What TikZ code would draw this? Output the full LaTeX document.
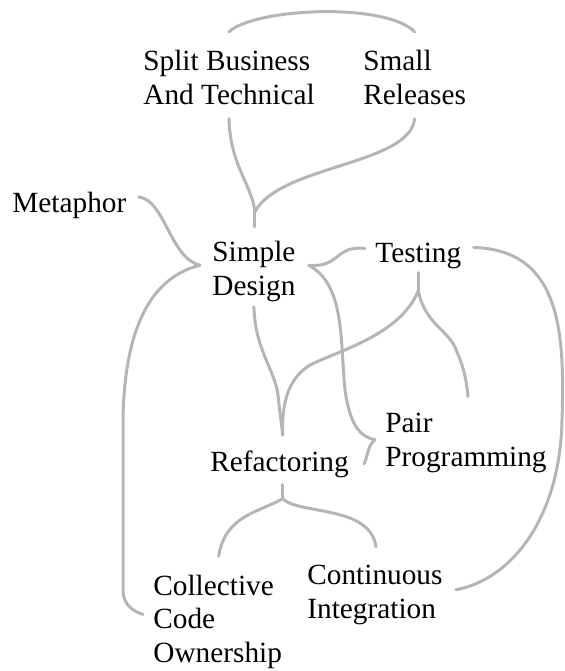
\documentclass[tikz,border=0pt]{standalone}
\usepackage{fontspec}
\setmainfont{Liberation Serif}
\usetikzlibrary{positioning}

\begin{document}
\begin{tikzpicture}[x=0.5pt,y=-0.5pt,
  practice/.style={anchor=base west,align=left,inner sep=0pt,
    font=\fontsize{14.65}{16.75}\selectfont},
  link/.style={draw=black!29,line width=1.5pt,line cap=round,line join=round}]
 \useasboundingbox (0,0) rectangle (565,671);
 % practices (placed by the baseline of their last line)
 \node[practice] (split) at (143,104) {Split Business\\And Technical};
 \node[practice] (small) at (363,104) {Small\\Releases};
 \node[practice] (metaphor) at (12,212) {Metaphor};
 \node[practice] (simple) at (212,295) {Simple\\Design};
 \node[practice] (testing) at (375,262) {Testing};
 \node[practice] (pair) at (385,466) {Pair\\Programming};
 \node[practice] (refactor) at (210,471) {Refactoring};
 \node[practice] (collective) at (153,662) {Collective\\Code\\Ownership};
 \node[practice] (continuous) at (307,618) {Continuous\\Integration};
 % joins
 \coordinate (topjoin) at ([shift={(1,-29)}]simple.north);
 \coordinate (leftjoin) at ([shift={(-12,-6)}]simple.west);
 \coordinate (rightjoin) at ([shift={(13,-6)}]simple.east);
 \coordinate (pairjoin) at ([shift={(-10,-3)}]pair.west);
 \coordinate (testjoin) at ([shift={(0,22)}]testing.south);
 \coordinate (refjoin) at ([shift={(3,21)}]refactor.south);
 % links
 \draw[link] ([shift={(0,-18)}]split.north) .. controls (255,8) and (385,2) .. ([shift={(0,-18)}]small.north);
 \draw[link] ([shift={(0,14)}]split.south) .. controls (230,165) and (252,185) .. (topjoin);
 \draw[link] ([shift={(0,14)}]small.south) .. controls (410,165) and (280,165) .. (topjoin);
 \draw[link] (topjoin) -- ([shift={(1,-14)}]simple.north);
 \draw[link] ([shift={(12,-8)}]metaphor.east) .. controls (165,200) and (170,258) .. (leftjoin);
 \draw[link] (leftjoin) .. controls (140,280) and (124,350) .. (123,420)
   -- (123,590) .. controls (123,605) and (133,611) .. ([shift={(-10,-7)}]collective.west);
 \draw[link] (rightjoin) .. controls (340,268) and (335,245) .. ([shift={(-10,-7)}]testing.west);
 \draw[link] (rightjoin) .. controls (345,285) and (340,340) .. (345,390)
   .. controls (350,425) and (360,437) .. (pairjoin);
 \draw[link] (pairjoin) .. controls (368,445) and (368,455) .. ([shift={(15,0)}]refactor.east);
 \draw[link] ([shift={(0,4)}]testing.south) -- (testjoin);
 \draw[link] (testjoin) .. controls (400,335) and (340,350) .. (310,365)
   .. controls (285,380) and (282,410) .. ([shift={(3,-15)}]refactor.north);
 \draw[link] (testjoin) .. controls (425,325) and (450,330) .. (457,352)
   .. controls (465,370) and (467,385) .. ([shift={(2,-16)}]pair.north);
 \draw[link] ([shift={(0,5)}]simple.south) .. controls (255,350) and (275,370) .. (278,395)
   .. controls (280,415) and (282,425) .. ([shift={(3,-15)}]refactor.north);
 \draw[link] ([shift={(12,-8)}]testing.east) .. controls (560,250) and (565,330) .. (562,420)
   .. controls (560,520) and (510,580) .. ([shift={(13,-5)}]continuous.east);
 \draw[link] ([shift={(3,7)}]refactor.south) -- (refjoin);
 \draw[link] (refjoin) .. controls (260,512) and (225,515) .. ([shift={(1,-18)}]collective.north);
 \draw[link] (refjoin) .. controls (300,515) and (370,505) .. ([shift={(1,-18)}]continuous.north);
\end{tikzpicture}
\end{document}
